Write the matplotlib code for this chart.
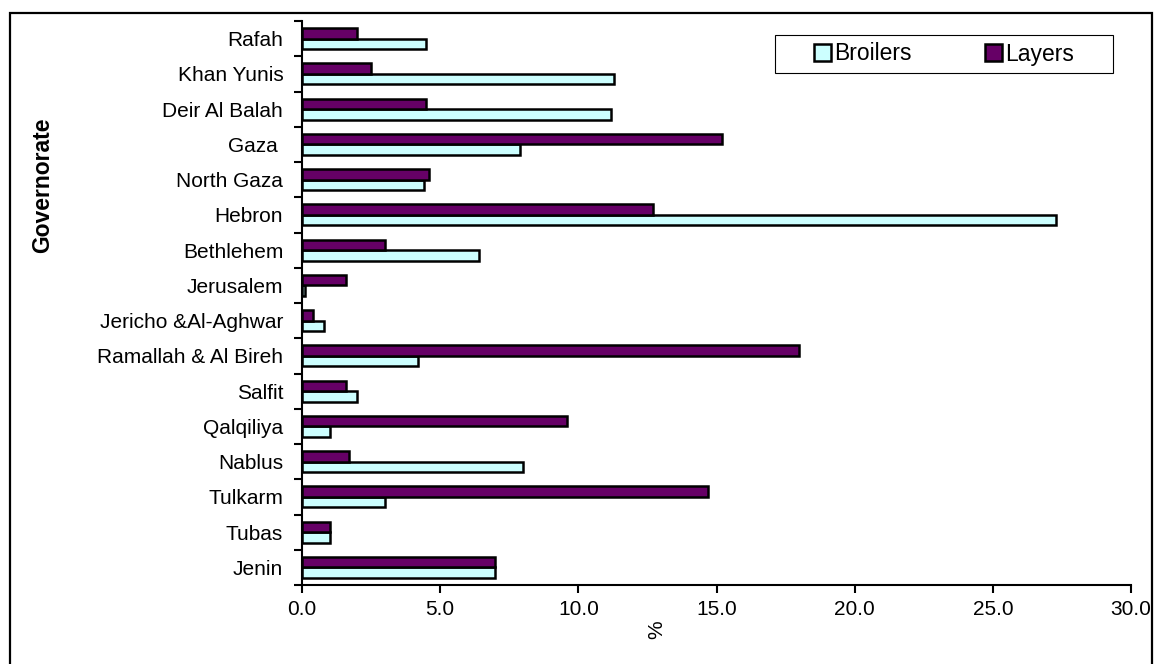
import numpy as np
import matplotlib
matplotlib.use("Agg")
import matplotlib.pyplot as plt
from matplotlib.patches import Rectangle

plt.rcParams['font.family'] = ['Liberation Sans', 'DejaVu Sans']

# governorates, bottom to top
governorates = ['Jenin', 'Tubas', 'Tulkarm', 'Nablus', 'Qalqiliya', 'Salfit',
                'Ramallah & Al Bireh', 'Jericho &Al-Aghwar', 'Jerusalem', 'Bethlehem',
                'Hebron', 'North Gaza', 'Gaza ', 'Deir Al Balah', 'Khan Yunis', 'Rafah']
broilers = [7.0, 1.0, 3.0, 8.0, 1.0, 2.0, 4.2, 0.8, 0.1, 6.4,
            27.3, 4.4, 7.9, 11.2, 11.3, 4.5]
layers = [7.0, 1.0, 14.7, 1.7, 9.6, 1.6, 18.0, 0.4, 1.6, 3.0,
          12.7, 4.6, 15.2, 4.5, 2.5, 2.0]
x_ticks = [0, 5, 10, 15, 20, 25, 30]

W, H = 1157, 664
fig = plt.figure(figsize=(W / 100, H / 100), dpi=100)
ax = fig.add_axes([302 / W, 1 - 585 / H, (1131 - 302) / W, (585 - 21) / H])

y = np.arange(len(governorates))
h = 0.3
ax.barh(y - h / 2, broilers, height=h, color='#CCFFFF', edgecolor='black',
        linewidth=1.8, label='Broilers')
ax.barh(y + h / 2, layers, height=h, color='#660066', edgecolor='black',
        linewidth=1.8, label='Layers')

ax.set_xlim(0, 30)
ax.set_ylim(-0.5, len(governorates) - 0.5)
ax.set_xticks(x_ticks)
ax.set_xticklabels([f'{t:.1f}' for t in x_ticks], fontsize=15)
ax.set_yticks(y)
ax.set_yticklabels(governorates, fontsize=15)
ax.tick_params(axis='y', length=0, pad=13.5)
ax.set_yticks(np.arange(-0.5, len(governorates)), minor=True)
ax.tick_params(axis='y', which='minor', length=6, width=1.5)
ax.tick_params(axis='x', length=6, width=1.5, pad=5)

for side in ['top', 'right']:
    ax.spines[side].set_visible(False)
for side in ['left', 'bottom']:
    ax.spines[side].set_linewidth(1.5)

fig.text(657 / W, 1 - 630 / H, '%', rotation=90, fontsize=15,
         ha='center', va='center')
fig.text(43 / W, 1 - 185 / H, 'Governorate', rotation=90, fontsize=16.5,
         fontweight='bold', ha='center', va='center')

# legend without its own frame; the box is drawn separately
leg_box = (775, 35, 1113, 73)
ax.legend(loc='center', bbox_to_anchor=((leg_box[0] + leg_box[2]) / 2 / W,
                                         1 - (leg_box[1] + leg_box[3]) / 2 / H),
          bbox_transform=fig.transFigure, ncol=2, fontsize=16.5, frameon=False,
          handlelength=0.75, handleheight=0.75, handletextpad=0.15,
          columnspacing=3.2, borderpad=0, borderaxespad=0)
fig.patches.append(Rectangle((leg_box[0] / W, 1 - leg_box[3] / H),
                             (leg_box[2] - leg_box[0]) / W,
                             (leg_box[3] - leg_box[1]) / H,
                             transform=fig.transFigure, fill=False,
                             edgecolor='black', linewidth=0.8))

# outer chart frame
fig.patches.append(Rectangle((10 / W, -0.02), 1142 / W, 1.02 - 13 / H,
                             transform=fig.transFigure, fill=False,
                             edgecolor='black', linewidth=1.6))

fig.savefig('out.png', dpi=100)
